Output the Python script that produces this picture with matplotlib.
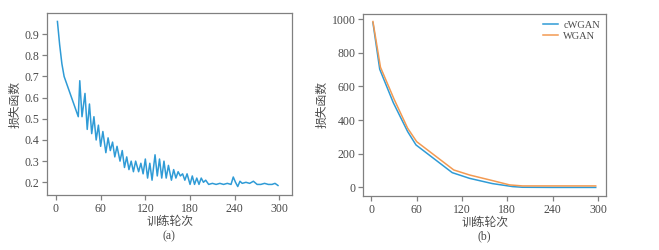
import matplotlib
matplotlib.use('Agg')
import matplotlib.pyplot as plt

plt.rcParams['font.family'] = ['Liberation Serif', 'Noto Sans CJK SC']

# (a) loss curve
a_epoch = [2, 5, 8, 11, 30, 32, 35, 39, 42, 45, 48, 51, 54, 57, 60, 63, 67, 70, 73, 76,
           79, 82, 86, 89, 92, 95, 98, 101, 104, 107, 111, 114, 117, 120, 123, 126, 129,
           133, 136, 139, 142, 145, 148, 151, 155, 158, 161, 164, 167, 170, 173, 176, 180,
           183, 186, 189, 192, 195, 198, 201, 205, 210, 215, 220, 225, 230, 235, 238, 241,
           244, 247, 250, 255, 260, 265, 270, 275, 280, 285, 290, 294, 298]
a_loss = [0.96, 0.85, 0.76, 0.70, 0.51, 0.68, 0.51, 0.62, 0.45, 0.57, 0.43, 0.51, 0.40,
          0.47, 0.37, 0.44, 0.34, 0.41, 0.35, 0.39, 0.32, 0.37, 0.30, 0.35, 0.27, 0.32,
          0.26, 0.30, 0.25, 0.30, 0.25, 0.29, 0.24, 0.31, 0.22, 0.29, 0.21, 0.33, 0.23,
          0.31, 0.22, 0.30, 0.22, 0.28, 0.21, 0.26, 0.22, 0.25, 0.23, 0.24, 0.21, 0.24,
          0.19, 0.23, 0.19, 0.22, 0.19, 0.22, 0.20, 0.21, 0.19, 0.195, 0.19, 0.195, 0.19,
          0.195, 0.19, 0.225, 0.20, 0.18, 0.205, 0.195, 0.20, 0.195, 0.205, 0.19, 0.19,
          0.195, 0.19, 0.19, 0.195, 0.185]

# (b) cWGAN vs WGAN
cwgan_epoch = [2, 11, 29, 48, 59, 107, 130, 160, 187, 200, 240, 297]
cwgan_loss = [980, 702, 503, 331, 252, 87, 53, 22, 4, 0, -1, -1]
wgan_epoch = [2, 12, 30, 48, 60, 109, 130, 160, 183, 200, 240, 297]
wgan_loss = [986, 714, 524, 351, 271, 103, 73, 40, 14, 8, 8, 8]

xticks = [0, 60, 120, 180, 240, 300]
a_yticks = [0.2, 0.3, 0.4, 0.5, 0.6, 0.7, 0.8, 0.9]
b_yticks = [0, 200, 400, 600, 800, 1000]

BLUE = '#2f9bd6'
ORANGE = '#f39a52'
GREY = '#808080'
TXT = '#4a4a4a'


def style(ax):
    for s in ax.spines.values():
        s.set_color(GREY)
        s.set_linewidth(0.9)
    ax.tick_params(direction='out', length=3.5, width=0.9, color=GREY,
                   labelcolor=TXT, labelsize=8.5, pad=2)
    ax.set_xticks(xticks)
    ax.set_xlabel('训练轮次', fontsize=8.5, color=TXT, labelpad=1)
    ax.set_ylabel('损失函数', fontsize=8.5, color=TXT, labelpad=2)


fig = plt.figure(figsize=(6.59, 2.5), dpi=100)

ax1 = fig.add_axes([0.0713, 0.22, 0.372, 0.728])
ax1.plot(a_epoch, a_loss, color=BLUE, linewidth=1.1)
ax1.set_xlim(-12, 317)
ax1.set_ylim(0.14, 1.0)
ax1.set_yticks(a_yticks)
style(ax1)
fig.text(0.257, 0.055, '(a)', ha='center', va='center', fontsize=8.5, color=TXT)

ax2 = fig.add_axes([0.551, 0.216, 0.369, 0.728])
ax2.plot(cwgan_epoch, cwgan_loss, color=BLUE, linewidth=1.1, label='cWGAN')
ax2.plot(wgan_epoch, wgan_loss, color=ORANGE, linewidth=1.1, label='WGAN')
ax2.set_xlim(-11, 311)
ax2.set_ylim(-52, 1031)
ax2.set_yticks(b_yticks)
style(ax2)
ax2.legend(loc='upper right', frameon=False, fontsize=7.5, handlelength=1.4,
           handletextpad=0.5, labelspacing=0.2, labelcolor=TXT,
           borderaxespad=0.2, bbox_to_anchor=(1.0, 1.0))
fig.text(0.735, 0.055, '(b)', ha='center', va='center', fontsize=8.5, color=TXT)

fig.savefig('out.png', dpi=100)
